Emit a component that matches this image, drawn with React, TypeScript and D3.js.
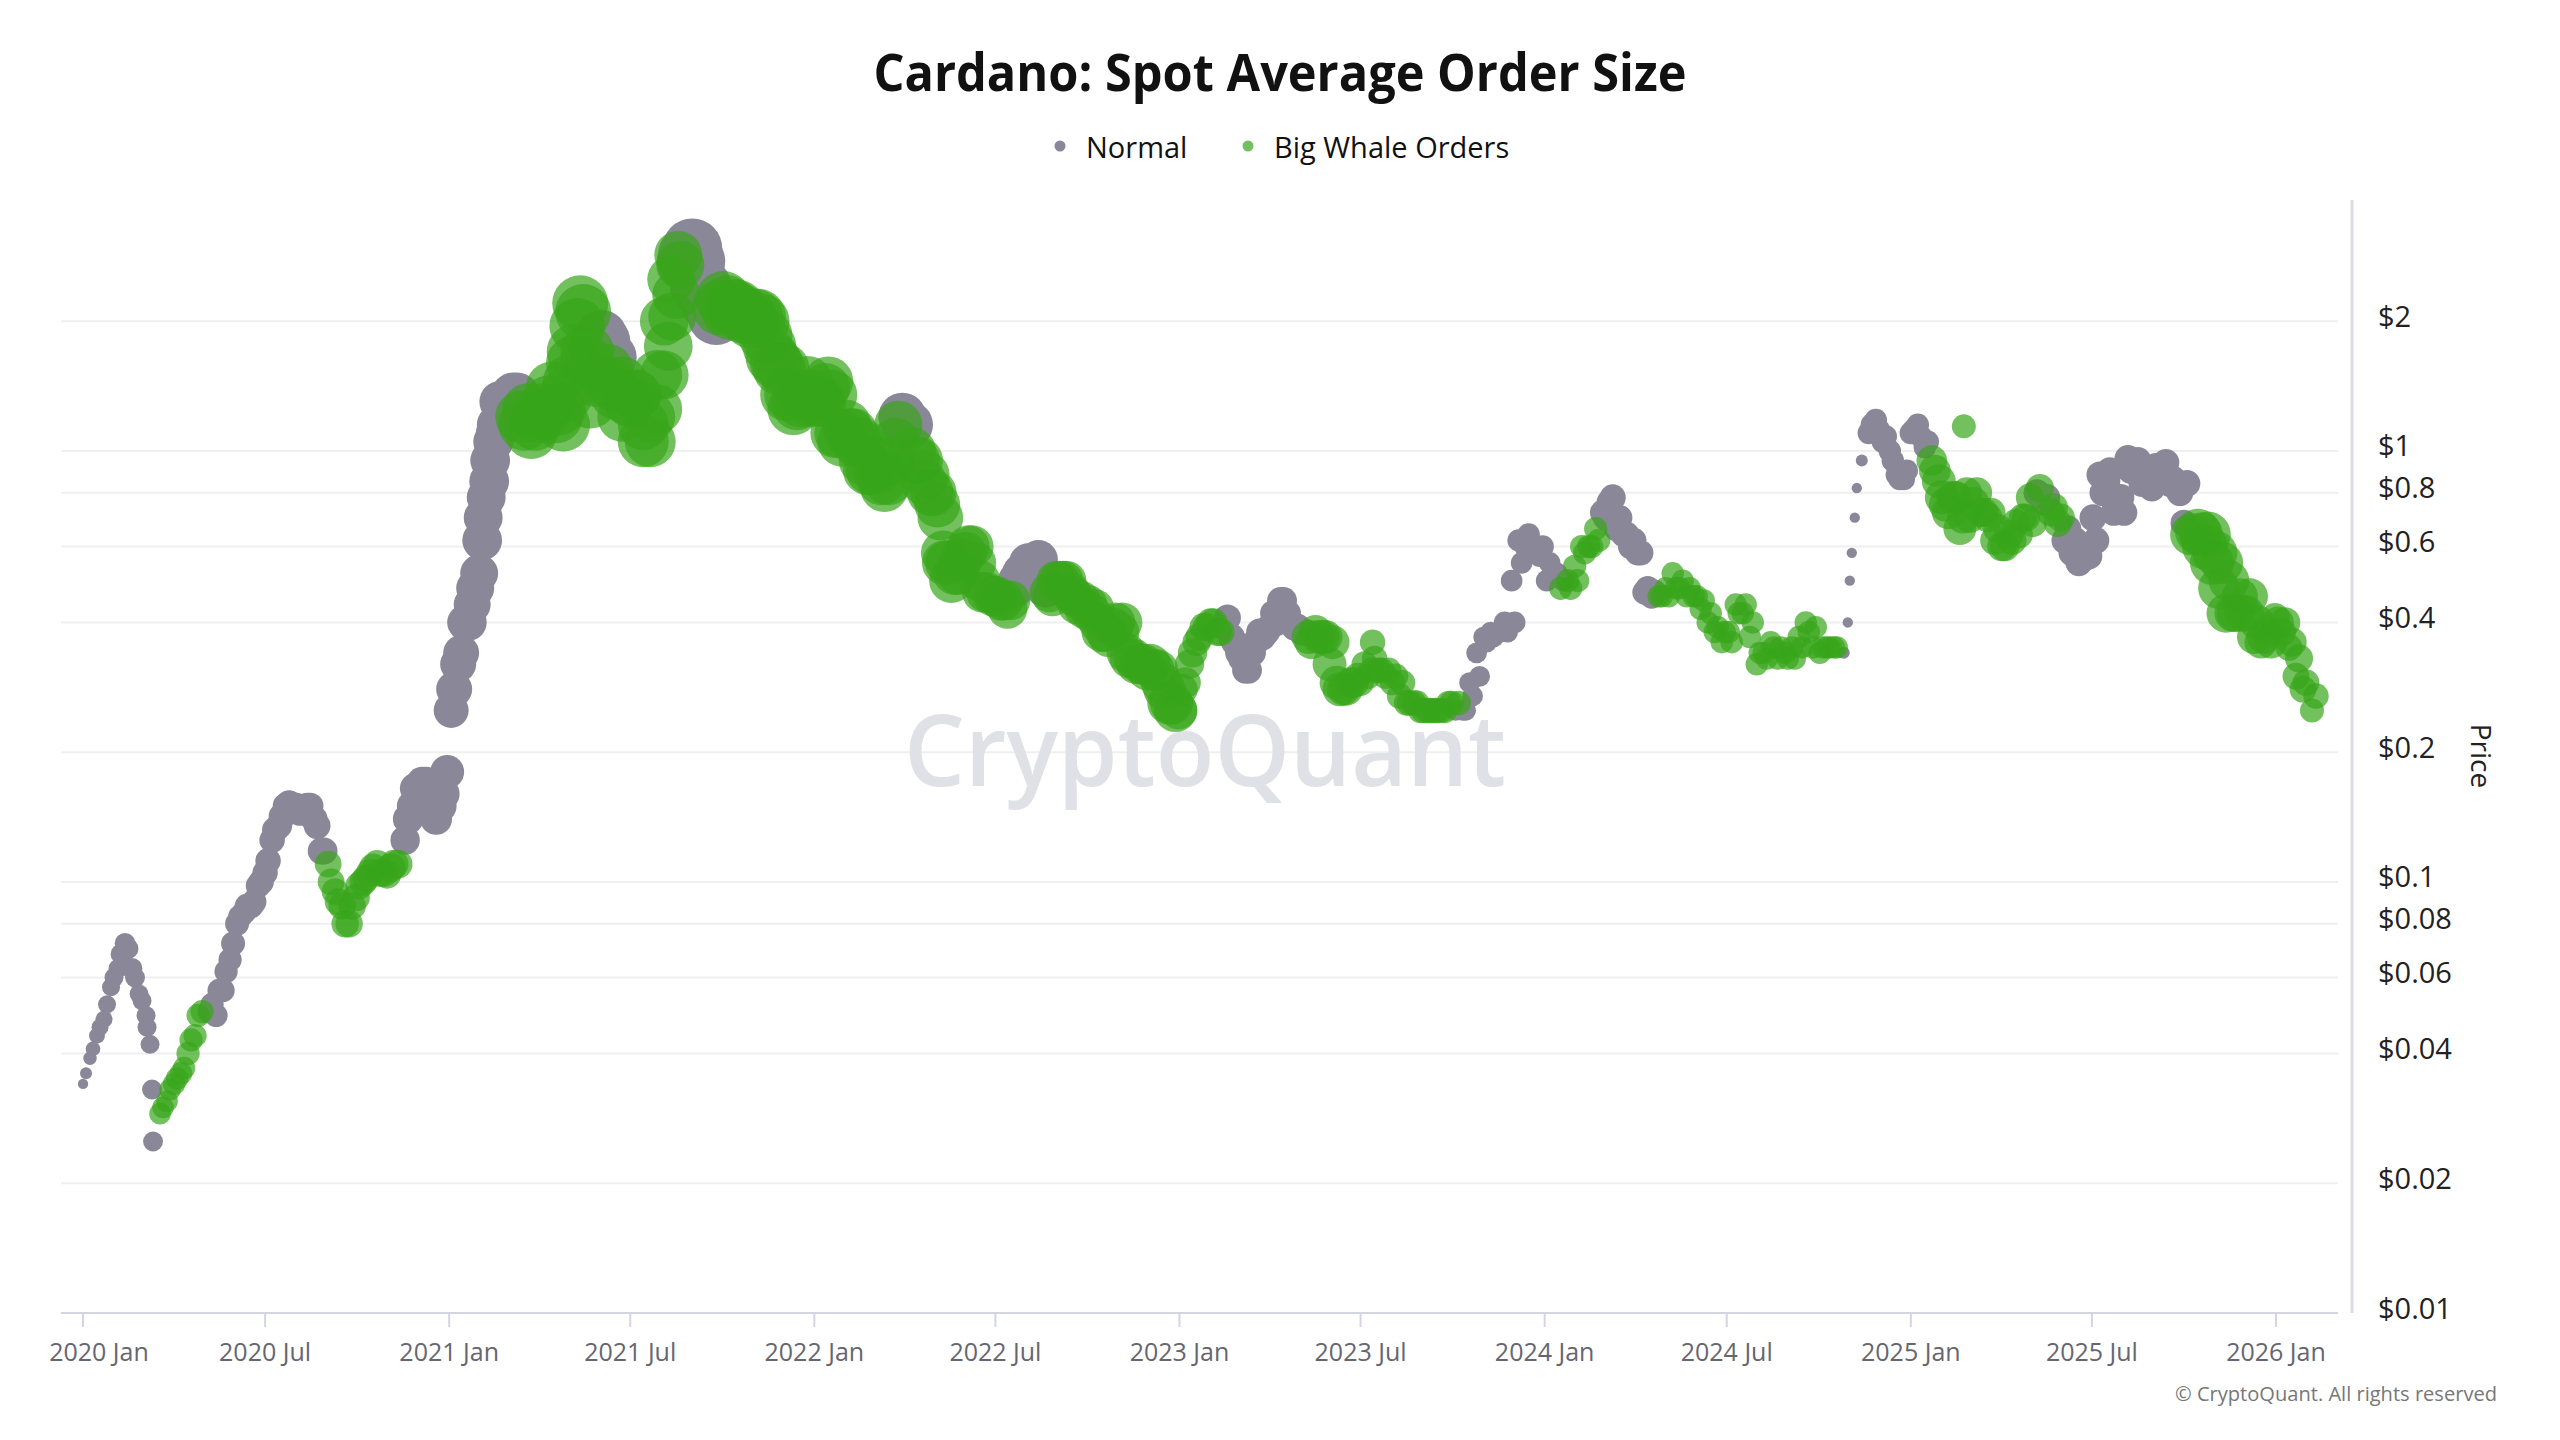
import React from "react";
import * as d3 from "d3";

// ---------- DATA ----------
const TITLE = "Cardano: Spot Average Order Size";
const SERIES_NAMES = ["Normal", "Big Whale Orders"];
const WATERMARK = "CryptoQuant";
const COPYRIGHT = "© CryptoQuant. All rights reserved";
const Y_TITLE = "Price";

// weekly samples starting at this date (7 days apart)
const FIRST_WEEK = "2020-01-01";

// ADA price (USD), one value per week
const price = [
  0.034, 0.039, 0.044, 0.048, 0.057, 0.063, 0.072, 0.063, 0.055, 0.049,
  0.025, 0.029, 0.031, 0.034, 0.036, 0.040, 0.044, 0.050, 0.050, 0.049,
  0.056, 0.066, 0.080, 0.085, 0.088, 0.098, 0.105, 0.125, 0.135, 0.150,
  0.150, 0.145, 0.150, 0.140, 0.118, 0.110, 0.095, 0.088, 0.080, 0.092,
  0.100, 0.105, 0.110, 0.105, 0.108, 0.110, 0.125, 0.150, 0.160, 0.170,
  0.160, 0.150, 0.180, 0.280, 0.340, 0.400, 0.480, 0.620, 0.850, 1.10,
  1.25, 1.30, 1.35, 1.15, 1.10, 1.20, 1.22, 1.40, 1.25, 1.35,
  1.60, 2.20, 1.70, 1.75, 1.85, 1.55, 1.40, 1.45, 1.30, 1.35,
  1.05, 1.20, 1.50, 2.00, 2.50, 2.85, 2.75, 2.95, 2.40, 2.30,
  2.20, 2.15, 2.20, 2.15, 2.10, 2.05, 2.05, 2.00, 1.75, 1.60,
  1.55, 1.35, 1.28, 1.35, 1.30, 1.30, 1.40, 1.35, 1.10, 1.15,
  1.10, 1.05, 0.90, 0.95, 0.85, 0.85, 1.05, 1.20, 1.15, 0.95,
  0.85, 0.80, 0.75, 0.55, 0.50, 0.52, 0.58, 0.60, 0.50, 0.47,
  0.46, 0.45, 0.43, 0.48, 0.52, 0.55, 0.52, 0.50, 0.47, 0.50,
  0.50, 0.47, 0.44, 0.43, 0.42, 0.40, 0.38, 0.39, 0.38, 0.34,
  0.33, 0.32, 0.31, 0.31, 0.29, 0.26, 0.25, 0.28, 0.32, 0.36,
  0.39, 0.40, 0.38, 0.39, 0.37, 0.34, 0.31, 0.34, 0.38, 0.38,
  0.42, 0.45, 0.42, 0.39, 0.38, 0.37, 0.38, 0.37, 0.32, 0.29,
  0.28, 0.29, 0.30, 0.32, 0.31, 0.31, 0.30, 0.29, 0.27, 0.26,
  0.26, 0.25, 0.25, 0.25, 0.25, 0.26, 0.25, 0.25, 0.29, 0.34,
  0.37, 0.38, 0.38, 0.40, 0.50, 0.62, 0.60, 0.58, 0.57, 0.50,
  0.52, 0.48, 0.50, 0.54, 0.60, 0.60, 0.66, 0.72, 0.76, 0.66,
  0.64, 0.60, 0.58, 0.47, 0.46, 0.46, 0.48, 0.52, 0.48, 0.46,
  0.46, 0.43, 0.40, 0.38, 0.36, 0.38, 0.44, 0.42, 0.37, 0.32,
  0.34, 0.36, 0.33, 0.34, 0.35, 0.37, 0.40, 0.35, 0.34, 0.35,
  0.35, 0.34, 0.40, 0.70, 0.95, 1.10, 1.18, 1.05, 1.00, 0.88,
  0.86, 1.10, 1.15, 1.02, 0.95, 0.85, 0.75, 0.78, 0.66, 0.80,
  0.76, 0.72, 0.70, 0.62, 0.60, 0.64, 0.68, 0.70, 0.78, 0.80,
  0.76, 0.72, 0.68, 0.62, 0.58, 0.55, 0.58, 0.70, 0.88, 0.85,
  0.72, 0.78, 0.96, 0.92, 0.84, 0.84, 0.92, 0.90, 0.84, 0.82,
  0.68, 0.64, 0.65, 0.60, 0.55, 0.48, 0.42, 0.42, 0.46, 0.42,
  0.37, 0.36, 0.38, 0.41, 0.38, 0.35, 0.30, 0.28,
];

// 1 = Big Whale Orders, 0 = Normal
const whale = [
  0, 0, 0, 0, 0, 0, 0, 0, 0, 0,
  0, 1, 1, 1, 1, 1, 1, 1, 0, 0,
  0, 0, 0, 0, 0, 0, 0, 0, 0, 0,
  0, 0, 0, 0, 0, 1, 1, 1, 1, 1,
  1, 1, 1, 1, 1, 1, 0, 0, 0, 0,
  0, 0, 0, 0, 0, 0, 0, 0, 0, 0,
  0, 0, 0, 1, 1, 1, 1, 1, 1, 1,
  1, 1, 1, 0, 0, 1, 1, 1, 1, 1,
  1, 1, 1, 1, 1, 1, 0, 0, 0, 0,
  0, 1, 1, 1, 1, 1, 1, 1, 1, 1,
  1, 1, 1, 1, 1, 1, 1, 1, 1, 1,
  1, 1, 1, 1, 1, 1, 1, 0, 0, 1,
  1, 1, 1, 1, 1, 1, 1, 1, 1, 1,
  1, 1, 1, 0, 0, 0, 0, 0, 1, 1,
  1, 1, 1, 1, 1, 1, 1, 1, 1, 1,
  1, 1, 1, 1, 1, 1, 1, 1, 1, 1,
  1, 1, 1, 0, 0, 0, 0, 0, 0, 0,
  0, 0, 0, 0, 0, 1, 1, 1, 1, 1,
  1, 1, 1, 1, 1, 1, 1, 1, 1, 1,
  1, 1, 1, 1, 1, 1, 0, 0, 0, 0,
  0, 0, 0, 0, 0, 0, 0, 0, 0, 0,
  0, 1, 1, 1, 1, 1, 1, 0, 0, 0,
  0, 0, 0, 0, 0, 1, 1, 1, 1, 1,
  1, 1, 1, 1, 1, 1, 1, 1, 1, 1,
  1, 1, 1, 1, 1, 1, 1, 1, 1, 1,
  1, 0, 0, 0, 0, 0, 0, 0, 0, 0,
  0, 0, 0, 0, 1, 1, 1, 1, 1, 1,
  1, 1, 1, 1, 1, 1, 1, 1, 1, 0,
  0, 1, 1, 0, 0, 0, 0, 0, 0, 0,
  0, 0, 0, 0, 0, 0, 0, 0, 0, 0,
  0, 1, 1, 1, 1, 1, 1, 1, 1, 1,
  1, 1, 1, 1, 1, 1, 1, 1,
];

// average order size (relative units) -> bubble area
const orderSize = [
  3, 5, 7, 8, 9, 10, 12, 12, 10, 10,
  11, 13, 13, 14, 14, 15, 15, 15, 15, 15,
  15, 15, 16, 16, 17, 17, 18, 18, 19, 20,
  20, 20, 20, 20, 20, 20, 20, 21, 21, 21,
  21, 22, 22, 22, 23, 23, 24, 26, 28, 28,
  28, 30, 32, 36, 36, 38, 40, 44, 44, 46,
  48, 50, 55, 75, 75, 75, 75, 78, 78, 80,
  82, 87, 80, 75, 75, 69, 69, 69, 69, 69,
  72, 69, 69, 66, 64, 64, 90, 100, 95, 90,
  90, 87, 87, 87, 85, 85, 85, 82, 80, 78,
  76, 75, 72, 72, 70, 69, 69, 69, 69, 69,
  69, 67, 66, 66, 64, 64, 64, 64, 62, 62,
  60, 60, 58, 56, 55, 52, 50, 50, 48, 46,
  46, 45, 44, 42, 42, 42, 42, 42, 44, 44,
  44, 44, 44, 44, 44, 44, 44, 44, 44, 44,
  44, 44, 46, 46, 48, 50, 52, 26, 24, 22,
  22, 22, 22, 20, 20, 20, 20, 20, 20, 20,
  20, 20, 20, 20, 20, 32, 32, 32, 32, 32,
  30, 26, 20, 19, 18, 18, 18, 18, 18, 18,
  18, 18, 18, 18, 17, 17, 12, 12, 12, 12,
  12, 12, 12, 13, 13, 14, 14, 14, 13, 13,
  13, 15, 15, 15, 15, 15, 15, 18, 19, 18,
  18, 18, 18, 17, 17, 14, 14, 14, 14, 14,
  14, 14, 14, 14, 14, 14, 14, 14, 14, 14,
  14, 14, 14, 14, 14, 14, 14, 14, 14, 14,
  14, 3, 3, 3, 4, 14, 14, 14, 14, 14,
  14, 14, 14, 14, 26, 32, 32, 30, 30, 26,
  26, 24, 24, 24, 24, 24, 22, 22, 22, 20,
  20, 22, 22, 20, 20, 20, 20, 20, 20, 20,
  20, 20, 20, 20, 20, 20, 20, 20, 20, 20,
  20, 48, 58, 58, 54, 48, 42, 38, 36, 34,
  32, 30, 28, 24, 22, 20, 20, 20,
];

// extra single-day readings between the weekly samples: [date, price, whale, order size]
const extraSamples: [string, number, number, number][] = [
  ["2020-01-04", 0.036, 0, 4], ["2020-01-11", 0.041, 0, 6], ["2020-01-18", 0.046, 0, 8],
  ["2020-01-25", 0.052, 0, 9], ["2020-02-01", 0.060, 0, 10], ["2020-02-08", 0.068, 0, 12],
  ["2020-02-15", 0.070, 0, 12], ["2020-02-22", 0.060, 0, 11], ["2020-02-29", 0.053, 0, 10],
  ["2020-03-05", 0.046, 0, 10], ["2020-03-08", 0.042, 0, 10], ["2020-03-10", 0.033, 0, 11],
  ["2020-03-21", 0.030, 1, 13], ["2020-03-28", 0.033, 1, 13], ["2020-04-04", 0.035, 1, 14],
  ["2020-04-11", 0.037, 1, 14], ["2020-04-18", 0.043, 1, 15], ["2020-04-25", 0.049, 1, 15],
  ["2020-05-09", 0.052, 0, 15], ["2020-05-16", 0.056, 0, 15], ["2020-05-23", 0.062, 0, 15],
  ["2020-05-30", 0.072, 0, 16], ["2020-06-06", 0.083, 0, 16], ["2020-06-13", 0.088, 0, 17],
  ["2020-06-20", 0.090, 0, 17], ["2020-06-27", 0.100, 0, 18], ["2020-07-04", 0.112, 0, 18],
  ["2020-07-11", 0.132, 0, 19], ["2020-07-18", 0.142, 0, 20], ["2020-07-25", 0.152, 0, 20],
  ["2020-08-01", 0.150, 0, 20], ["2020-08-08", 0.148, 0, 20], ["2020-08-15", 0.150, 0, 20],
  ["2020-08-22", 0.135, 0, 20], ["2020-08-29", 0.118, 0, 20], ["2020-09-05", 0.100, 1, 20],
  ["2020-09-12", 0.090, 1, 20], ["2020-09-19", 0.080, 1, 21], ["2020-09-26", 0.088, 1, 21],
  ["2020-10-03", 0.098, 1, 21], ["2020-10-10", 0.102, 1, 21], ["2020-10-17", 0.108, 1, 22],
  ["2020-10-24", 0.105, 1, 22], ["2020-10-31", 0.104, 1, 22], ["2020-11-07", 0.110, 1, 23],
  ["2020-11-21", 0.140, 0, 26], ["2020-11-28", 0.165, 0, 26], ["2020-12-05", 0.170, 0, 28],
  ["2020-12-12", 0.160, 0, 28], ["2020-12-19", 0.140, 0, 28], ["2020-12-26", 0.160, 0, 30],
  ["2021-01-03", 0.25, 0, 34], ["2021-01-10", 0.32, 0, 36], ["2021-01-17", 0.40, 0, 36],
  ["2021-01-24", 0.44, 0, 38], ["2021-01-31", 0.52, 0, 40], ["2021-02-04", 0.70, 0, 42],
  ["2021-02-07", 0.78, 0, 42], ["2021-02-11", 0.95, 0, 44], ["2021-02-14", 1.05, 0, 44],
  ["2021-02-18", 1.15, 0, 46], ["2021-02-21", 1.30, 0, 48], ["2021-02-28", 1.20, 0, 50],
  ["2021-03-06", 1.35, 0, 55],
  ["2021-03-14", 1.20, 1, 75], ["2021-03-21", 1.25, 1, 75], ["2021-03-28", 1.15, 1, 75],
  ["2021-04-04", 1.25, 1, 75], ["2021-04-11", 1.30, 1, 78], ["2021-04-18", 1.20, 1, 78],
  ["2021-04-25", 1.15, 1, 80], ["2021-05-02", 1.45, 1, 82], ["2021-05-06", 1.70, 1, 84],
  ["2021-05-09", 1.95, 1, 86], ["2021-05-15", 2.10, 1, 87], ["2021-05-19", 1.60, 1, 80],
  ["2021-05-22", 1.30, 1, 80], ["2021-05-29", 1.45, 1, 75],
  ["2021-06-05", 1.80, 0, 75], ["2021-06-12", 1.65, 0, 72],
  ["2021-06-09", 1.45, 1, 69], ["2021-06-16", 1.35, 1, 69], ["2021-06-23", 1.20, 1, 69],
  ["2021-06-30", 1.30, 1, 69], ["2021-07-07", 1.35, 1, 70], ["2021-07-14", 1.15, 1, 72],
  ["2021-07-21", 1.05, 1, 72], ["2021-07-28", 1.25, 1, 69], ["2021-08-04", 1.50, 1, 66],
  ["2021-08-08", 1.75, 1, 66], ["2021-08-12", 2.05, 1, 64], ["2021-08-16", 2.30, 1, 64],
  ["2021-08-20", 2.70, 1, 64],
  ["2021-08-27", 2.85, 0, 95], ["2021-09-04", 2.75, 0, 100], ["2021-09-11", 2.40, 0, 95],
  ["2021-09-18", 2.20, 0, 90], ["2021-09-25", 2.05, 0, 90],
  ["2021-10-02", 2.25, 1, 87], ["2021-10-09", 2.10, 1, 87], ["2021-10-16", 2.15, 1, 87],
  ["2021-10-23", 2.05, 1, 85], ["2021-10-30", 2.00, 1, 85], ["2021-11-06", 2.05, 1, 85],
  ["2021-11-13", 1.85, 1, 82], ["2021-11-20", 1.65, 1, 80], ["2021-11-27", 1.55, 1, 78],
  ["2021-12-04", 1.35, 1, 76], ["2021-12-11", 1.25, 1, 75], ["2021-12-18", 1.30, 1, 72],
  ["2021-12-25", 1.45, 1, 72],
  ["2022-01-01", 1.35, 1, 70], ["2022-01-08", 1.30, 1, 69], ["2022-01-15", 1.45, 1, 69],
  ["2022-01-22", 1.10, 1, 69], ["2022-01-29", 1.05, 1, 69], ["2022-02-05", 1.10, 1, 69],
  ["2022-02-12", 1.05, 1, 69], ["2022-02-19", 0.95, 1, 67], ["2022-02-26", 0.90, 1, 66],
  ["2022-03-05", 0.90, 1, 66], ["2022-03-12", 0.82, 1, 64], ["2022-03-19", 0.95, 1, 64],
  ["2022-03-26", 1.15, 1, 64], ["2022-04-02", 1.15, 0, 64], ["2022-04-09", 1.00, 1, 62],
  ["2022-04-16", 0.95, 1, 62], ["2022-04-23", 0.88, 1, 60], ["2022-04-30", 0.80, 1, 60],
  ["2022-05-07", 0.70, 1, 58], ["2022-05-10", 0.58, 1, 56], ["2022-05-14", 0.55, 1, 55],
  ["2022-05-21", 0.52, 1, 52], ["2022-05-28", 0.56, 1, 50], ["2022-06-04", 0.60, 1, 50],
  ["2022-06-11", 0.55, 1, 48], ["2022-06-18", 0.47, 1, 46],
  ["2022-07-02", 0.46, 1, 46], ["2022-07-09", 0.45, 1, 45], ["2022-07-16", 0.45, 1, 44],
  ["2022-07-23", 0.50, 0, 42], ["2022-07-30", 0.52, 0, 42], ["2022-08-06", 0.54, 0, 42],
  ["2022-08-13", 0.56, 0, 42], ["2022-08-20", 0.48, 0, 42], ["2022-08-27", 0.46, 1, 44],
  ["2022-09-03", 0.50, 1, 44], ["2022-09-10", 0.50, 1, 44], ["2022-09-17", 0.46, 1, 44],
  ["2022-09-24", 0.45, 1, 44], ["2022-10-01", 0.44, 1, 44], ["2022-10-08", 0.43, 1, 44],
  ["2022-10-15", 0.38, 1, 44], ["2022-10-22", 0.37, 1, 44], ["2022-10-29", 0.40, 1, 44],
  ["2022-11-05", 0.40, 1, 44], ["2022-11-12", 0.33, 1, 44], ["2022-11-19", 0.32, 1, 44],
  ["2022-11-26", 0.32, 1, 46], ["2022-12-03", 0.32, 1, 46], ["2022-12-10", 0.31, 1, 48],
  ["2022-12-17", 0.28, 1, 50], ["2022-12-24", 0.26, 1, 52], ["2022-12-31", 0.25, 1, 40],
  ["2023-01-07", 0.29, 1, 26], ["2023-01-14", 0.34, 1, 24], ["2023-01-21", 0.37, 1, 22],
  ["2023-01-28", 0.39, 1, 22], ["2023-02-04", 0.40, 1, 22], ["2023-02-11", 0.38, 1, 22],
  ["2023-02-18", 0.41, 0, 20], ["2023-02-25", 0.36, 0, 20], ["2023-03-04", 0.33, 0, 20],
  ["2023-03-11", 0.31, 0, 20], ["2023-03-18", 0.36, 0, 20], ["2023-03-25", 0.37, 0, 20],
  ["2023-04-01", 0.39, 0, 20], ["2023-04-08", 0.40, 0, 20], ["2023-04-15", 0.45, 0, 20],
  ["2023-04-22", 0.40, 0, 20], ["2023-04-29", 0.39, 0, 20], ["2023-05-06", 0.38, 0, 20],
  ["2023-05-13", 0.36, 1, 32], ["2023-05-20", 0.37, 1, 32], ["2023-05-27", 0.37, 1, 32],
  ["2023-06-03", 0.36, 1, 32], ["2023-06-10", 0.28, 1, 32], ["2023-06-17", 0.28, 1, 30],
  ["2023-06-24", 0.29, 1, 26], ["2023-07-01", 0.29, 1, 20], ["2023-07-08", 0.30, 1, 19],
  ["2023-07-13", 0.36, 1, 18], ["2023-07-15", 0.33, 1, 18], ["2023-07-22", 0.31, 1, 18],
  ["2023-07-29", 0.31, 1, 18], ["2023-08-05", 0.30, 1, 18], ["2023-08-12", 0.29, 1, 18],
  ["2023-08-19", 0.26, 1, 18], ["2023-08-26", 0.26, 1, 18], ["2023-09-02", 0.25, 1, 18],
  ["2023-09-09", 0.25, 1, 18], ["2023-09-16", 0.25, 1, 18], ["2023-09-23", 0.25, 1, 18],
  ["2023-09-30", 0.26, 1, 17], ["2023-10-07", 0.26, 1, 17], ["2023-10-14", 0.25, 0, 12],
  ["2023-10-21", 0.27, 0, 12], ["2023-10-28", 0.30, 0, 12], ["2023-11-04", 0.36, 0, 12],
  ["2023-11-11", 0.37, 0, 12], ["2023-11-18", 0.38, 0, 12], ["2023-11-25", 0.38, 0, 12],
  ["2023-12-02", 0.40, 0, 13], ["2023-12-09", 0.55, 0, 13], ["2023-12-16", 0.64, 0, 14],
  ["2023-12-23", 0.60, 0, 14], ["2023-12-30", 0.60, 0, 14],
  ["2024-01-06", 0.55, 0, 13], ["2024-01-13", 0.52, 0, 13], ["2024-01-20", 0.50, 0, 13],
  ["2024-01-27", 0.48, 1, 15], ["2024-02-03", 0.50, 1, 15], ["2024-02-10", 0.58, 1, 15],
  ["2024-02-17", 0.60, 1, 15], ["2024-02-24", 0.62, 1, 15], ["2024-03-02", 0.70, 0, 18],
  ["2024-03-09", 0.78, 0, 19], ["2024-03-16", 0.70, 0, 18], ["2024-03-23", 0.64, 0, 18],
  ["2024-03-30", 0.62, 0, 18], ["2024-04-06", 0.58, 0, 18], ["2024-04-13", 0.48, 0, 17],
  ["2024-04-20", 0.47, 0, 17], ["2024-04-27", 0.46, 1, 14], ["2024-05-04", 0.46, 1, 14],
  ["2024-05-11", 0.48, 1, 14], ["2024-05-18", 0.50, 1, 14], ["2024-05-25", 0.48, 1, 14],
  ["2024-06-01", 0.46, 1, 14], ["2024-06-08", 0.45, 1, 14], ["2024-06-15", 0.42, 1, 14],
  ["2024-06-22", 0.39, 1, 14], ["2024-06-29", 0.38, 1, 14], ["2024-07-06", 0.36, 1, 14],
  ["2024-07-13", 0.42, 1, 14], ["2024-07-20", 0.44, 1, 14], ["2024-07-27", 0.40, 1, 14],
  ["2024-08-03", 0.34, 1, 14], ["2024-08-10", 0.33, 1, 14], ["2024-08-17", 0.35, 1, 14],
  ["2024-08-24", 0.35, 1, 14], ["2024-08-31", 0.33, 1, 14], ["2024-09-07", 0.33, 1, 14],
  ["2024-09-14", 0.35, 1, 14], ["2024-09-21", 0.38, 1, 14], ["2024-09-28", 0.39, 1, 14],
  ["2024-10-05", 0.35, 1, 14], ["2024-10-12", 0.35, 1, 14], ["2024-10-19", 0.35, 1, 14],
  ["2024-10-26", 0.34, 0, 4],
  ["2024-11-01", 0.50, 0, 3], ["2024-11-03", 0.58, 0, 3], ["2024-11-08", 0.82, 0, 3],
  ["2024-11-23", 1.15, 0, 14], ["2024-11-30", 1.12, 0, 14], ["2024-12-07", 1.08, 0, 14],
  ["2024-12-14", 0.95, 0, 14], ["2024-12-21", 0.86, 0, 14], ["2024-12-28", 0.90, 0, 14],
  ["2025-01-04", 1.12, 0, 14], ["2025-01-11", 1.08, 0, 14], ["2025-01-18", 1.05, 0, 14],
  ["2025-01-25", 0.90, 1, 28], ["2025-02-01", 0.78, 1, 32], ["2025-02-08", 0.72, 1, 32],
  ["2025-02-15", 0.78, 1, 30], ["2025-02-22", 0.70, 1, 28], ["2025-02-23", 1.14, 1, 16],
  ["2025-03-01", 0.70, 1, 26], ["2025-03-08", 0.80, 1, 26], ["2025-03-15", 0.72, 1, 24],
  ["2025-03-22", 0.72, 1, 24], ["2025-03-29", 0.66, 1, 24], ["2025-04-05", 0.60, 1, 24],
  ["2025-04-12", 0.62, 1, 24], ["2025-04-19", 0.64, 1, 22], ["2025-04-26", 0.70, 1, 22],
  ["2025-05-03", 0.68, 1, 22], ["2025-05-10", 0.82, 1, 22], ["2025-05-17", 0.78, 0, 20],
  ["2025-05-24", 0.74, 1, 22], ["2025-05-31", 0.70, 1, 22], ["2025-06-07", 0.66, 0, 20],
  ["2025-06-14", 0.62, 0, 20], ["2025-06-21", 0.56, 0, 20], ["2025-06-28", 0.57, 0, 20],
  ["2025-07-05", 0.62, 0, 20], ["2025-07-12", 0.80, 0, 20], ["2025-07-19", 0.90, 0, 20],
  ["2025-07-26", 0.78, 0, 20], ["2025-08-02", 0.72, 0, 20], ["2025-08-09", 0.90, 0, 20],
  ["2025-08-16", 0.95, 0, 20], ["2025-08-23", 0.88, 0, 20], ["2025-08-30", 0.82, 0, 20],
  ["2025-09-06", 0.86, 0, 20], ["2025-09-13", 0.94, 0, 20], ["2025-09-20", 0.86, 0, 20],
  ["2025-09-27", 0.80, 0, 20], ["2025-10-04", 0.84, 0, 20], ["2025-10-11", 0.63, 0, 20],
  ["2025-10-18", 0.64, 1, 54], ["2025-10-25", 0.64, 1, 58], ["2025-11-01", 0.58, 1, 56],
  ["2025-11-08", 0.55, 1, 50], ["2025-11-15", 0.50, 1, 46], ["2025-11-22", 0.42, 1, 40],
  ["2025-11-29", 0.42, 1, 38], ["2025-12-06", 0.46, 1, 36], ["2025-12-13", 0.40, 1, 34],
  ["2025-12-20", 0.37, 1, 32], ["2025-12-27", 0.36, 1, 30], ["2026-01-03", 0.40, 1, 28],
  ["2026-01-10", 0.40, 1, 26], ["2026-01-17", 0.36, 1, 24], ["2026-01-24", 0.33, 1, 22],
  ["2026-01-31", 0.29, 1, 20], ["2026-02-06", 0.25, 1, 16], ["2026-02-10", 0.27, 1, 18],
];

const yTicks = [0.01, 0.02, 0.04, 0.06, 0.08, 0.1, 0.2, 0.4, 0.6, 0.8, 1, 2];
const yTickLabels = ["$0.01", "$0.02", "$0.04", "$0.06", "$0.08", "$0.1", "$0.2", "$0.4", "$0.6", "$0.8", "$1", "$2"];

// ---------- LAYOUT ----------
const W = 2560;
const H = 1440;
const PL = 61, PR = 2338, PT = 200, PB = 1313;
const FONT = "'Open Sans', 'Noto Sans', 'DejaVu Sans', sans-serif";
const GRAY = "#8a8898";
const GREEN = "#37a519";
const GREEN_OP = 0.7;

type Pt = { date: Date; price: number; whale: number; size: number };

export default function App() {
  const x = d3
    .scaleUtc()
    .domain([new Date(Date.UTC(2019, 11, 10)), new Date(Date.UTC(2026, 2, 4))])
    .range([PL, PR]);
  const y = d3.scaleLog().domain([0.01, 3.82]).range([PB, PT]);
  const r = d3.scaleSqrt().domain([0, 100]).range([0, 30]);

  const start = new Date(FIRST_WEEK + "T00:00:00Z");
  const pts: Pt[] = price.map((p, i) => ({
    date: d3.utcDay.offset(start, 7 * i),
    price: p,
    whale: whale[i],
    size: orderSize[i],
  }));
  extraSamples.forEach(([d, p, w, s]) => pts.push({ date: new Date(d + "T00:00:00Z"), price: p, whale: w, size: s }));
  pts.sort((a, b) => +a.date - +b.date);
  const normal = pts.filter((d) => !d.whale);
  const big = pts.filter((d) => d.whale);

  const xTicks = d3.utcMonth.every(6)!.range(new Date(Date.UTC(2020, 0, 1)), new Date(Date.UTC(2026, 1, 2)));
  const fmt = d3.utcFormat("%Y %b");

  return (
    <svg
      width={W}
      height={H}
      viewBox={`0 0 ${W} ${H}`}
      style={{ position: "absolute", left: 0, top: 0, display: "block", background: "#fff" }}
      fontFamily={FONT}
    >
      <rect x={0} y={0} width={W} height={H} fill="#fff" />

      {/* title */}
      <text x={W / 2} y={91} textAnchor="middle" fontSize={52} fontWeight={700} fill="#111" textLength={813} lengthAdjust="spacingAndGlyphs">
        {TITLE}
      </text>

      {/* legend */}
      <circle cx={1060} cy={146} r={5.5} fill={GRAY} />
      <text x={1086} y={146} dominantBaseline="central" fontSize={29} fill="#111">
        {SERIES_NAMES[0]}
      </text>
      <circle cx={1248} cy={146} r={5.5} fill={GREEN} fillOpacity={GREEN_OP} />
      <text x={1274} y={146} dominantBaseline="central" fontSize={29} fill="#111">
        {SERIES_NAMES[1]}
      </text>

      {/* grid */}
      {yTicks.map((t) => (
        <line key={"g" + t} x1={PL} x2={PR} y1={y(t)} y2={y(t)} stroke="#efeff2" strokeWidth={2} />
      ))}

      {/* watermark */}
      <text x={1205} y={786} textAnchor="middle" fontSize={100} fontWeight={600} fill="#e0e0e7" textLength={602} lengthAdjust="spacingAndGlyphs">
        {WATERMARK}
      </text>

      {/* x axis */}
      <line x1={PL} x2={PR} y1={PB} y2={PB} stroke="#d3d6e2" strokeWidth={2} />
      {xTicks.map((t, i) => {
        const tx = x(t);
        return (
          <g key={"x" + i}>
            <line x1={tx} x2={tx} y1={PB} y2={PB + 14} stroke="#d3d6e2" strokeWidth={2} />
            <text x={Math.max(tx, 99)} y={1361} textAnchor="middle" fontSize={25} fill="#666670">
              {fmt(t)}
            </text>
          </g>
        );
      })}

      {/* y axis */}
      <line x1={2352} x2={2352} y1={PT} y2={PB} stroke="#dcdce3" strokeWidth={3} />
      {yTicks.map((t, i) => (
        <text key={"yl" + t} x={2378} y={y(t) - 6} dominantBaseline="central" fontSize={29} fill="#222">
          {yTickLabels[i]}
        </text>
      ))}
      <text x={2482} y={756} textAnchor="middle" dominantBaseline="central" fontSize={28} fill="#222" transform="rotate(90, 2482, 756)">
        {Y_TITLE}
      </text>

      {/* points */}
      <g>
        {normal.map((d, i) => (
          <circle key={"n" + i} cx={x(d.date)} cy={y(d.price)} r={r(d.size)} fill={GRAY} />
        ))}
      </g>
      <g>
        {big.map((d, i) => (
          <circle key={"w" + i} cx={x(d.date)} cy={y(d.price)} r={r(d.size)} fill={GREEN} fillOpacity={GREEN_OP} />
        ))}
      </g>

      {/* credits */}
      <text x={2497} y={1401} textAnchor="end" fontSize={20} fill="#777" textLength={322} lengthAdjust="spacingAndGlyphs">
        {COPYRIGHT}
      </text>
    </svg>
  );
}
